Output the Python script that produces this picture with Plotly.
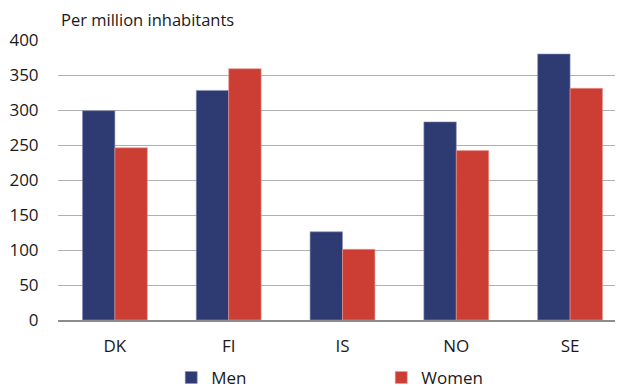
import plotly.graph_objects as go

countries = ["DK", "FI", "IS", "NO", "SE"]
men = [299, 328, 126, 283, 380]
women = [246, 359, 101, 242, 331]

fig = go.Figure()
fig.add_trace(go.Bar(x=countries, y=men, name="Men",
                     marker=dict(color="#2d3b72", line=dict(color="#8a92b8", width=0.6))))
fig.add_trace(go.Bar(x=countries, y=women, name="Women",
                     marker=dict(color="#cc3d33", line=dict(color="#e89a94", width=0.6))))

# the page body keeps an 8px margin, so the figure is sized and placed to allow for it
fig.update_layout(
    width=619, height=378,
    margin=dict(l=50, r=0, t=32, b=66, autoexpand=False),
    plot_bgcolor="white", paper_bgcolor="white",
    font=dict(family="Open Sans", size=17, color="#1a1a1a"),
    barmode="group", bargap=0.43, bargroupgap=0,
    title=dict(text="Per million inhabitants", x=53 / 619, xanchor="left",
               y=1 - 12 / 378, yanchor="middle", yref="container",
               font=dict(size=16.5, color="#1a1a1a")),
    legend=dict(orientation="h", x=0.199, xanchor="left", y=-0.207, yanchor="middle",
                entrywidth=165, entrywidthmode="pixels", font=dict(size=17),
                itemwidth=30, tracegroupgap=0),
)
fig.update_yaxes(range=[0, 400], dtick=50, showgrid=True, gridcolor="#b0b0b0", gridwidth=1,
                 zeroline=False, ticks="outside", ticklen=15, tickcolor="rgba(0,0,0,0)",
                 fixedrange=True, automargin=False)
fig.update_xaxes(showline=True, linecolor="#8c8c8c", linewidth=1.5, ticks="",
                 ticklabelstandoff=10, automargin=False)

fig.write_html("out.html")
